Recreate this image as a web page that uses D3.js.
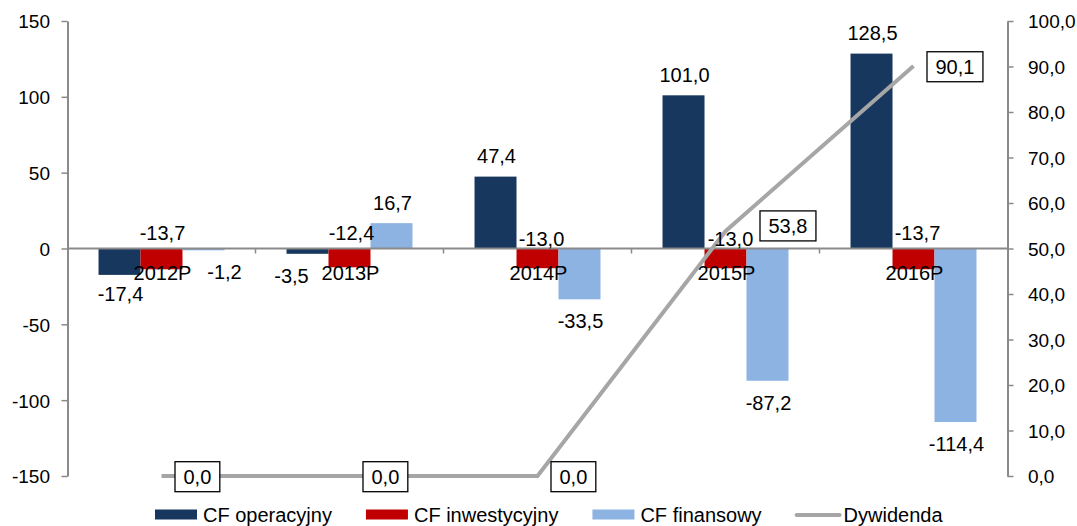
<!DOCTYPE html>
<html>
<head>
<meta charset="utf-8">
<script src="https://cdn.jsdelivr.net/npm/d3@7/dist/d3.min.js"></script>
<style>
  html, body { margin: 0; padding: 0; background: #fff; }
  svg { display: block; font-family: "Liberation Sans", Arial, sans-serif; }
</style>
</head>
<body>
<svg id="chart" width="1077" height="526"></svg>
<script>
// Cash-flow forecast 2012P–2016P (mln PLN) with dividend on the secondary axis
const categories = ["2012P", "2013P", "2014P", "2015P", "2016P"];
const cfOperacyjny = [-17.4, -3.5, 47.4, 101.0, 128.5];
const cfInwestycyjny = [-13.7, -12.4, -13.0, -13.0, -13.7];
const cfFinansowy = [-1.2, 16.7, -33.5, -87.2, -114.4];
const dywidenda = [0.0, 0.0, 0.0, 53.8, 90.1];

const leftTicks = [-150, -100, -50, 0, 50, 100, 150];
const rightTicks = [0, 10, 20, 30, 40, 50, 60, 70, 80, 90, 100];

const seriesNames = ["CF operacyjny", "CF inwestycyjny", "CF finansowy", "Dywidenda"];

// label nudges (px) so small labels do not collide
const opNudge  = [[0, -3], [-17, 0], [0, 0], [0, 0], [0, 0]];
const invNudge = [[0, 0], [1, 0], [3, 6], [4, 6], [3, 0]];
const finNudge = [[20, 0], [0, 0], [0, 0], [0, 0], [0, 0]];
const divNudge = [[0, 0], [0, 0], [0, 0], [21, -6], [0, 0]];

const colors = {
  "CF operacyjny": "#17375E",
  "CF inwestycyjny": "#C00000",
  "CF finansowy": "#8DB3E2",
  "Dywidenda": "#A6A6A6"
};

const pl = d3.formatLocale({ decimal: ",", thousands: " ", grouping: [3], currency: ["", " zł"], minus: "-" });
const fmt1 = pl.format(".1f");
const fmt0 = pl.format("d");

const svg = d3.select("#chart");
const L = 67.5, R = 1007.5, T = 21, B = 476;
const axisColor = "#8a8a8a";
const FONT = 20, AXFONT = 19;

const x0 = d3.scaleBand().domain(categories).range([L, R]).padding(0);
const bw = x0.bandwidth();
const barKeys = seriesNames.slice(0, 3);
const x1 = d3.scaleBand().domain(barKeys).range([bw * 0.165, bw * 0.835]).padding(0);
const yL = d3.scaleLinear().domain([-150, 150]).range([B, T]);
const yR = d3.scaleLinear().domain([0, 100]).range([B, T]);
const y0 = yL(0);

const barData = [cfOperacyjny, cfInwestycyjny, cfFinansowy];

// bars
const gBars = svg.append("g");
barKeys.forEach((key, si) => {
  gBars.selectAll(null)
    .data(barData[si].map((v, i) => ({ cat: categories[i], v })))
    .join("rect")
    .attr("x", d => x0(d.cat) + x1(key))
    .attr("width", x1.bandwidth())
    .attr("y", d => yL(Math.max(0, d.v)))
    .attr("height", d => Math.abs(yL(d.v) - y0))
    .attr("fill", colors[key]);
});

// left axis
const axL = svg.append("g").attr("transform", `translate(${L},0)`)
  .call(d3.axisLeft(yL).tickValues(leftTicks).tickFormat(fmt0).tickSize(6).tickSizeOuter(0).tickPadding(11.5));
// right axis
const axR = svg.append("g").attr("transform", `translate(${R},0)`)
  .call(d3.axisRight(yR).tickValues(rightTicks).tickFormat(fmt1).tickSize(6).tickSizeOuter(0).tickPadding(14.5));
[axL, axR].forEach(ax => {
  ax.select(".domain").attr("stroke", axisColor).attr("stroke-width", 2);
  ax.selectAll(".tick line").attr("stroke", axisColor).attr("stroke-width", 1.5);
  ax.selectAll(".tick text").attr("fill", "#000").style("font-size", AXFONT + "px")
    .style("font-family", '"Liberation Sans", Arial, sans-serif').attr("dy", "0.36em");
});

// category axis at zero
svg.append("line").attr("x1", L).attr("x2", R).attr("y1", y0).attr("y2", y0)
  .attr("stroke", axisColor).attr("stroke-width", 2);
svg.selectAll(null).data(categories.slice(1)).join("line")
  .attr("x1", d => x0(d)).attr("x2", d => x0(d))
  .attr("y1", y0).attr("y2", y0 + 5)
  .attr("stroke", axisColor).attr("stroke-width", 1.5);

// category labels
svg.selectAll(null).data(categories).join("text")
  .attr("x", d => x0(d) + bw / 2 + 1)
  .attr("y", y0 + 31.5)
  .attr("text-anchor", "middle")
  .style("font-size", FONT + "px")
  .text(d => d);

// dividend line
const lineGen = d3.line()
  .x((d, i) => x0(categories[i]) + bw / 2)
  .y(d => yR(d));
svg.append("path").datum(dywidenda)
  .attr("d", lineGen)
  .attr("fill", "none")
  .attr("stroke", colors["Dywidenda"])
  .attr("stroke-width", 4);

// bar value labels
function barLabels(key, values, nudge, fixedBaseline) {
  svg.selectAll(null).data(values).join("text")
    .attr("x", (v, i) => x0(categories[i]) + x1(key) + x1.bandwidth() / 2 + 1 + nudge[i][0])
    .attr("y", (v, i) => {
      let base;
      if (fixedBaseline !== undefined) base = fixedBaseline;
      else base = v >= 0 ? yL(v) - 13.5 : yL(v) + 29;
      return base + nudge[i][1];
    })
    .attr("text-anchor", "middle")
    .style("font-size", FONT + "px")
    .text(v => fmt1(v));
}
barLabels("CF operacyjny", cfOperacyjny, opNudge);
barLabels("CF inwestycyjny", cfInwestycyjny, invNudge, y0 - 9);
barLabels("CF finansowy", cfFinansowy, finNudge);

// dividend labels in boxes
const gDiv = svg.append("g");
dywidenda.forEach((v, i) => {
  const px = x0(categories[i]) + bw / 2;
  const py = yR(v);
  const g = gDiv.append("g");
  const t = g.append("text")
    .attr("text-anchor", "middle")
    .style("font-size", FONT + "px")
    .text(fmt1(v));
  const tw = t.node().getComputedTextLength();
  const boxW = tw + 17, boxH = 30;
  const left = px + 13.5 + divNudge[i][0];
  const cy = py + 0.7 + divNudge[i][1];
  g.insert("rect", "text")
    .attr("x", left).attr("y", cy - boxH / 2)
    .attr("width", boxW).attr("height", boxH)
    .attr("fill", "#fff").attr("stroke", "#000").attr("stroke-width", 1.3);
  t.attr("x", left + boxW / 2).attr("y", cy + 7);
});

// legend
const legend = svg.append("g");
let lx = 155;
const ly = 514.5;
seriesNames.forEach(name => {
  if (name === "Dywidenda") {
    legend.append("line").attr("x1", lx + 1).attr("x2", lx + 44).attr("y1", ly + 0.5).attr("y2", ly + 0.5)
      .attr("stroke", colors[name]).attr("stroke-width", 4).attr("stroke-linecap", "round");
  } else {
    legend.append("rect").attr("x", lx).attr("y", ly - 5).attr("width", 42).attr("height", 10)
      .attr("fill", colors[name]);
  }
  const t = legend.append("text").attr("x", lx + 48).attr("y", ly + 7)
    .style("font-size", FONT + "px").text(name);
  lx += 48 + t.node().getComputedTextLength() + 34;
});
</script>
</body>
</html>
